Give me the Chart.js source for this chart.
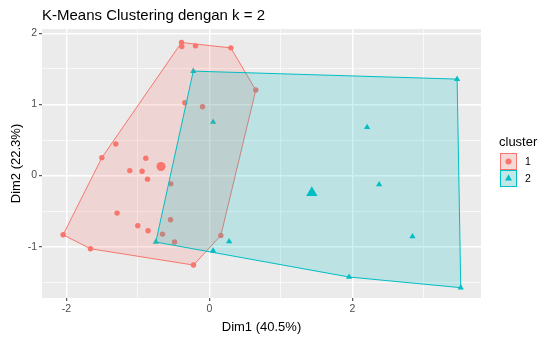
<!DOCTYPE html>
<html><head><meta charset="utf-8">
<script src="https://cdn.jsdelivr.net/npm/chart.js@4/dist/chart.umd.min.js"></script>
<style>html,body{margin:0;padding:0;background:#fff}#wrap{width:545px;height:338px}</style>
</head><body><div id="wrap"><canvas id="c" width="545" height="338"></canvas></div>
<script>
const chartTitle = 'K-Means Clustering dengan k = 2';
const xTitle = 'Dim1 (40.5%)';
const yTitle = 'Dim2 (22.3%)';
const legendTitle = 'cluster';
const clusterNames = ['1', '2'];

const c1x = [-0.389, -0.385, -0.193, 0.301, 0.650, -0.343, -0.095, -1.308, -1.503, -0.888, -1.112, -0.940, -0.864, -0.538, -1.290, -1.000, -0.856, -0.543, -0.655, -0.487, -2.045, -1.662, -0.221, 0.161];
const c1y = [1.870, 1.815, 1.823, 1.795, 1.202, 1.024, 0.968, 0.445, 0.252, 0.244, 0.070, 0.062, -0.050, -0.116, -0.527, -0.705, -0.776, -0.621, -0.822, -0.934, -0.832, -1.028, -1.257, -0.842];
const c2x = [-0.224, 3.466, 0.053, 2.207, 2.375, 2.842, -0.748, 0.277, 0.053, 1.955, 3.517];
const c2y = [1.468, 1.356, 0.753, 0.679, -0.126, -0.856, -0.934, -0.926, -1.056, -1.425, -1.575];

const xMajorTicks = [-2, 0, 2];
const xMinorTicks = [-1, 1, 3];
const yMajorTicks = [-1, 0, 1, 2];
const yMinorTicks = [-1.5, -0.5, 0.5, 1.5];

const RED = '#F8766D', CYAN = '#00BFC4';
const RED_FILL = 'rgba(248,118,109,0.2)', CYAN_FILL = 'rgba(0,191,196,0.2)';

function pts(xs, ys) { return xs.map((x, i) => ({x: x, y: ys[i]})); }
function hull(p) {
  const s = p.slice().sort((a, b) => a.x - b.x || a.y - b.y);
  const cross = (o, a, b) => (a.x - o.x) * (b.y - o.y) - (a.y - o.y) * (b.x - o.x);
  const lo = [], up = [];
  for (const q of s) { while (lo.length >= 2 && cross(lo[lo.length-2], lo[lo.length-1], q) <= 0) lo.pop(); lo.push(q); }
  for (let i = s.length - 1; i >= 0; i--) { const q = s[i]; while (up.length >= 2 && cross(up[up.length-2], up[up.length-1], q) <= 0) up.pop(); up.push(q); }
  up.pop(); lo.pop();
  const h = lo.concat(up);
  h.push(h[0]);
  return h;
}
function mean(a) { return a.reduce((s, v) => s + v, 0) / a.length; }

const p1 = pts(c1x, c1y), p2 = pts(c2x, c2y);
const cen1 = [{x: mean(c1x), y: mean(c1y)}];
const cen2 = [{x: mean(c2x), y: mean(c2y)}];

const bgPlugin = {
  id: 'panelBg',
  beforeDraw(chart) {
    const {ctx, chartArea: a} = chart;
    ctx.save(); ctx.fillStyle = '#EBEBEB';
    ctx.fillRect(a.left, a.top, a.right - a.left, a.bottom - a.top);
    ctx.restore();
  },
  afterDraw(chart) {
    const ctx = chart.ctx;
    ctx.save();
    ctx.fillStyle = '#000';
    ctx.font = '15px "Liberation Sans", Arial, sans-serif';
    ctx.textBaseline = 'alphabetic';
    ctx.fillText(chartTitle, 42, 20);
    // legend
    ctx.font = '13px "Liberation Sans", Arial, sans-serif';
    ctx.fillText(legendTitle, 499, 146);
    const keys = [[RED, RED_FILL, 'circle'], [CYAN, CYAN_FILL, 'triangle']];
    keys.forEach((k, i) => {
      const bx = 500, by = 153 + i * 17, bw = 17, bh = 17;
      ctx.fillStyle = '#F2F2F2'; ctx.fillRect(bx, by, bw, bh);
      ctx.fillStyle = k[1]; ctx.fillRect(bx + 0.5, by + 0.5, bw - 1, bh - 1);
      ctx.strokeStyle = k[0]; ctx.lineWidth = 1; ctx.strokeRect(bx + 0.5, by + 0.5, bw - 1, bh - 1);
      Chart.helpers.drawPoint(ctx, {pointStyle: k[2], radius: k[2] === 'circle' ? 3 : 4, borderWidth: 0, rotation: 0}, bx + bw / 2, by + bh / 2);
      ctx.fillStyle = k[0];
      ctx.fill();
      ctx.fillStyle = '#000';
      ctx.font = '10.5px "Liberation Sans", Arial, sans-serif';
      ctx.textBaseline = 'middle';
      ctx.fillText(clusterNames[i], bx + bw + 8, by + bh / 2 + 0.5);
      ctx.textBaseline = 'alphabetic';
    });
    ctx.restore();
  }
};

const isMajor = (arr, v) => arr.some(m => Math.abs(m - v) < 1e-9);
const tickFont = {family: '"Liberation Sans", Arial, sans-serif', size: 10.5};
const titleFont = {family: '"Liberation Sans", Arial, sans-serif', size: 13};

new Chart(document.getElementById('c'), {
  type: 'scatter',
  data: {
    datasets: [
      {label: 'c2', data: cen2, order: 1, pointStyle: 'triangle', pointRadius: 6.5, pointBackgroundColor: CYAN, pointBorderWidth: 0},
      {label: 'c1', data: cen1, order: 2, pointStyle: 'circle', pointRadius: 4.5, pointBackgroundColor: RED, pointBorderWidth: 0},
      {label: 'h2', data: hull(p2), order: 3, showLine: true, fill: 'shape', tension: 0, borderColor: CYAN, borderWidth: 1, backgroundColor: CYAN_FILL, pointRadius: 0},
      {label: 'h1', data: hull(p1), order: 4, showLine: true, fill: 'shape', tension: 0, borderColor: RED, borderWidth: 1, backgroundColor: RED_FILL, pointRadius: 0},
      {label: clusterNames[1], data: p2, order: 5, pointStyle: 'triangle', pointRadius: 3.6, pointBackgroundColor: CYAN, pointBorderWidth: 0},
      {label: clusterNames[0], data: p1, order: 6, pointStyle: 'circle', pointRadius: 2.7, pointBackgroundColor: RED, pointBorderWidth: 0}
    ]
  },
  options: {
    responsive: false, animation: false, devicePixelRatio: 1,
    layout: {padding: {left: 0, right: 64, top: 29, bottom: 0}},
    plugins: {legend: {display: false}, tooltip: {enabled: false}, title: {display: false}},
    scales: {
      x: {
        type: 'linear', min: -2.34, max: 3.80,
        afterFit(s) { s.height = 40; },
        afterBuildTicks(s) { s.ticks = xMajorTicks.concat(xMinorTicks).sort((a, b) => a - b).map(v => ({value: v})); },
        border: {display: false},
        grid: {
          color: '#FFFFFF',
          lineWidth: c => (c.tick && isMajor(xMajorTicks, c.tick.value)) ? 1.4 : 0.7,
          tickColor: c => (c.tick && isMajor(xMajorTicks, c.tick.value)) ? '#333333' : 'rgba(0,0,0,0)',
          tickLength: 3, tickWidth: 1
        },
        ticks: {
          color: '#4D4D4D', font: tickFont, padding: 2, maxRotation: 0, autoSkip: false,
          callback: v => isMajor(xMajorTicks, v) ? String(v) : ''
        },
        title: {display: true, text: xTitle, color: '#000', font: titleFont, padding: {top: 0, bottom: 3}}
      },
      y: {
        type: 'linear', min: -1.72, max: 2.06,
        afterFit(s) { s.width = 42; },
        afterBuildTicks(s) { s.ticks = yMajorTicks.concat(yMinorTicks).sort((a, b) => a - b).map(v => ({value: v})); },
        border: {display: false},
        grid: {
          color: '#FFFFFF',
          lineWidth: c => (c.tick && isMajor(yMajorTicks, c.tick.value)) ? 1.4 : 0.7,
          tickColor: c => (c.tick && isMajor(yMajorTicks, c.tick.value)) ? '#333333' : 'rgba(0,0,0,0)',
          tickLength: 3, tickWidth: 1
        },
        ticks: {
          color: '#4D4D4D', font: tickFont, padding: 2, autoSkip: false,
          callback: v => isMajor(yMajorTicks, v) ? String(v) : ''
        },
        title: {display: true, text: yTitle, color: '#000', font: titleFont, padding: {top: 9, bottom: 0}}
      }
    }
  },
  plugins: [bgPlugin]
});
</script></body></html>
